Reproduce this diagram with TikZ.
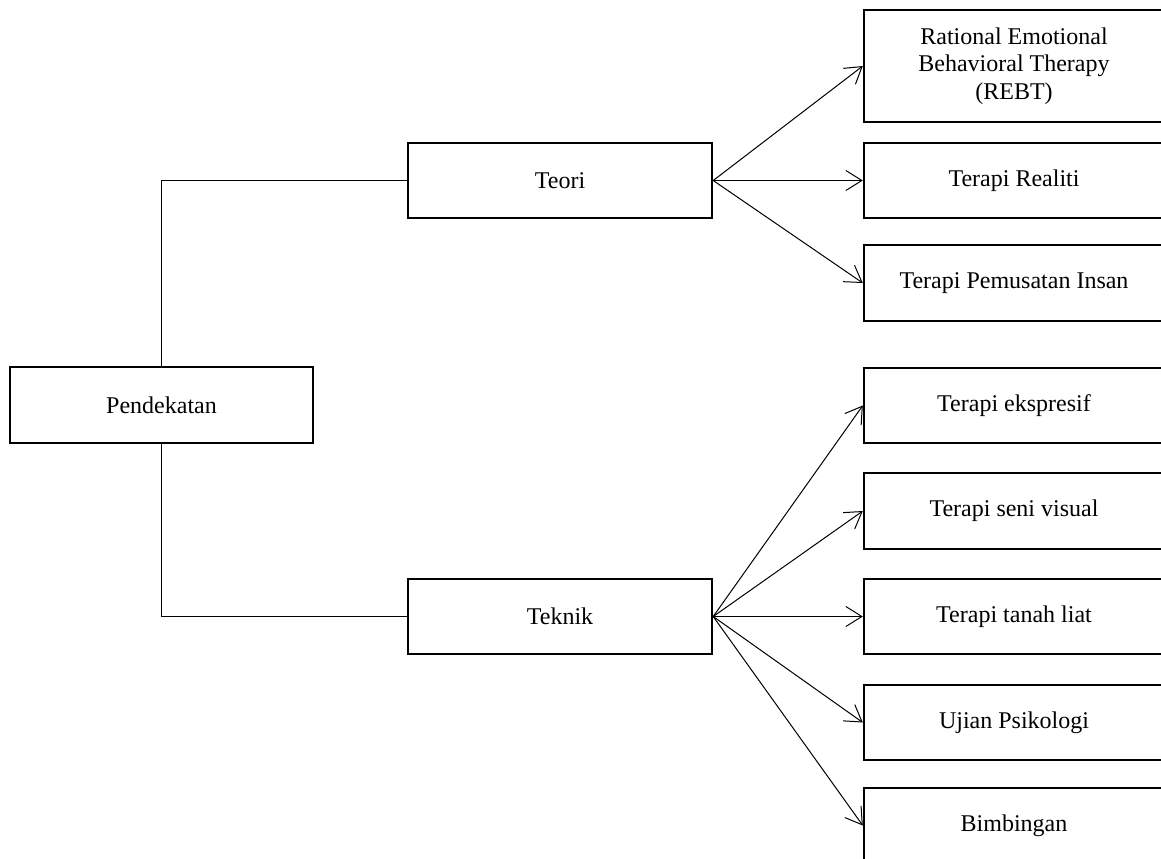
\documentclass[tikz,border=0pt]{standalone}
\usepackage{fontspec}
\setmainfont{Liberation Serif}
\usetikzlibrary{arrows.meta}

\tikzset{
  box/.style={draw,line width=1.2pt,minimum width=152pt,minimum height=37.5pt,
    align=center,font=\fontsize{12}{13.8}\selectfont,inner sep=2pt},
  rbox/.style={box,minimum width=150pt},
  link/.style={line width=0.5pt},
  arr/.style={link,-{Straight Barb[length=8pt,width=10pt,line width=0.5pt]}}
}

\begin{document}
\begin{tikzpicture}[x=0.5pt,y=-0.5pt]
  \clip(0,0)rectangle(1161,858);
  \node[box,minimum width=151.5pt,minimum height=38pt](pend)at(161.5,405){Pendekatan};
  \node[box](teori)at(560,180.5){Teori};
  \node[box](teknik)at(560,616.5){Teknik};
  \node[rbox,minimum height=56pt](rebt)at(1014,66){Rational Emotional\\Behavioral Therapy\\(REBT)};
  \node[rbox](realiti)at(1014,180.5){Terapi Realiti};
  \node[rbox,minimum height=38pt](insan)at(1014,283){Terapi Pemusatan Insan};
  \node[rbox](ekspr)at(1014,405.5){Terapi ekspresif};
  \node[rbox,minimum height=38pt](seni)at(1014,511){Terapi seni visual};
  \node[rbox](tanah)at(1014,616.5){Terapi tanah liat};
  \node[rbox](ujian)at(1014,722.5){Ujian Psikologi};
  \node[rbox](bimb)at(1014,825.5){Bimbingan};
  \draw[link](teori.west)-|(pend.north);
  \draw[link](pend.south)|-(teknik.west);
  \foreach \t in {rebt,realiti,insan}
    \draw[arr](teori.east)--(\t.west);
  \foreach \t in {ekspr,seni,tanah,ujian,bimb}
    \draw[arr](teknik.east)--(\t.west);
\end{tikzpicture}
\end{document}
